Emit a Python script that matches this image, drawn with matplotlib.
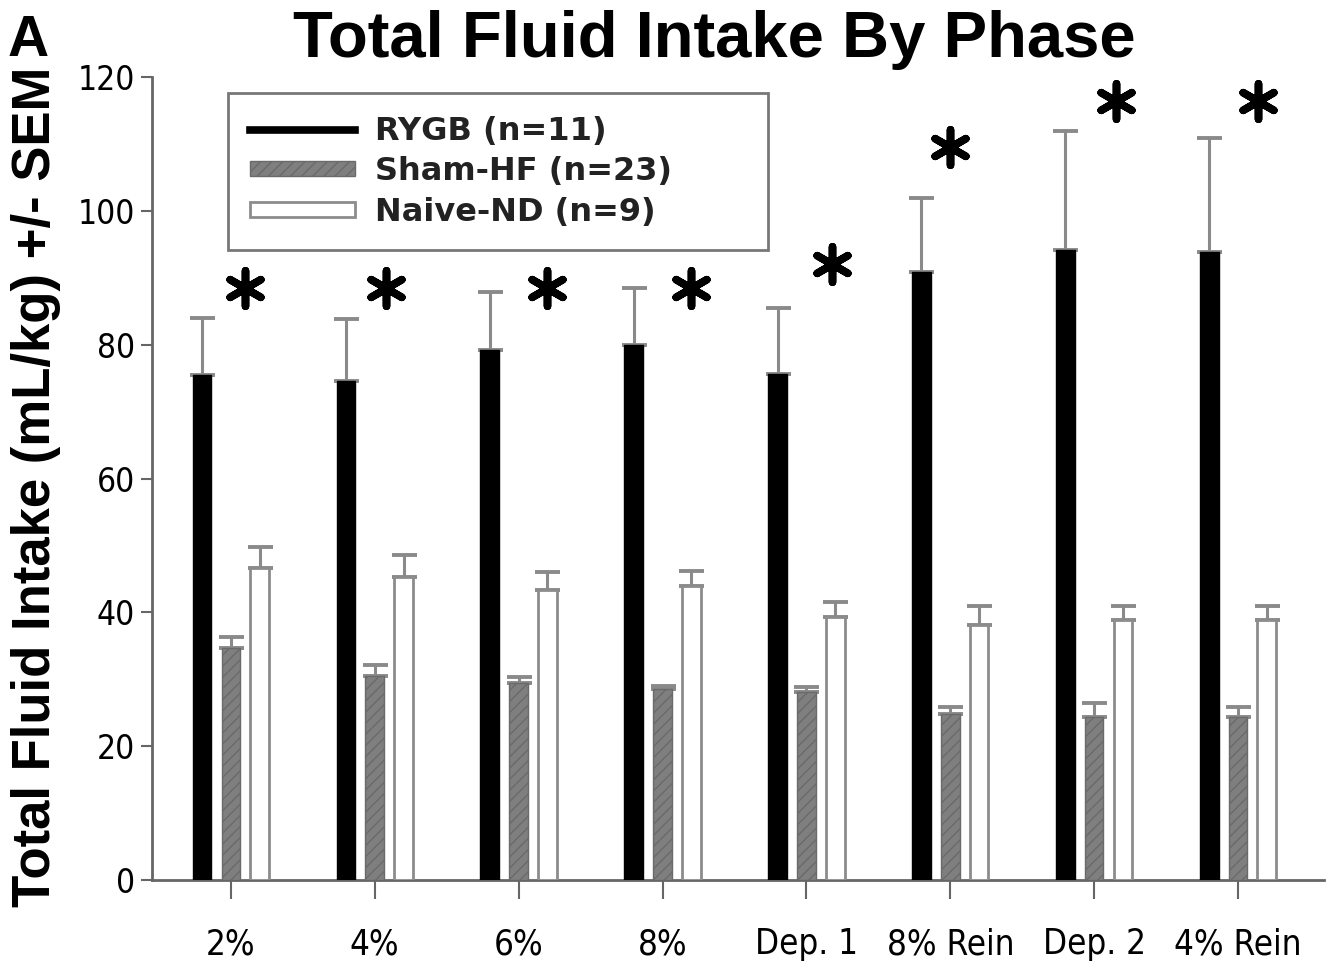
import matplotlib
matplotlib.use("Agg")
import matplotlib.pyplot as plt
import matplotlib.patches as mpatches
from matplotlib.lines import Line2D
from matplotlib import font_manager
import numpy as np

categories = ["2%", "4%", "6%", "8%", "Dep. 1", "8% Rein", "Dep. 2", "4% Rein"]
rygb = [75.5, 74.6, 79.2, 80.0, 75.6, 90.9, 94.1, 93.8]
rygb_sem = [8.5, 9.2, 8.7, 8.5, 9.9, 11.0, 17.8, 17.1]
sham = [34.7, 30.5, 29.4, 28.5, 28.1, 24.8, 24.4, 24.4]
sham_sem = [1.6, 1.6, 0.9, 0.5, 0.7, 1.1, 2.0, 1.5]
naive = [46.6, 45.3, 43.3, 43.9, 39.3, 38.1, 38.9, 38.9]
naive_sem = [3.2, 3.3, 2.7, 2.3, 2.2, 2.8, 2.0, 2.0]
sig_y = [88.5, 88.5, 88.5, 88.5, 92.0, 109.5, 116.5, 116.5]
sig_dx = [0.10, 0.08, 0.20, 0.20, 0.18, 0.0, 0.15, 0.14]

series_labels = ["RYGB (n=11)", "Sham-HF (n=23)", "Naive-ND (n=9)"]
title = "Total Fluid Intake By Phase"
ylabel = "Total Fluid Intake (mL/kg) +/- SEM"

# condensed face if one is installed
cond = None
for f in font_manager.fontManager.ttflist:
    if "Condensed" in f.fname or "Narrow" in f.fname:
        if "Bold" not in f.fname and "Oblique" not in f.fname and "Italic" not in f.fname:
            cond = f.fname
            break

BOLD = ["Liberation Sans", "DejaVu Sans"]


def tick_font(t, size):
    if cond is not None:
        t.set_fontproperties(font_manager.FontProperties(fname=cond, size=size))
    else:
        t.set_fontfamily(BOLD)
        t.set_fontsize(size * 0.9)


plt.rcParams['hatch.color'] = "#4a4a4a"
fig = plt.figure(figsize=(13.31, 9.64), dpi=100)
ax = fig.add_axes([0.114, 0.087, 0.881, 0.833])

x = np.arange(len(categories))
w = 0.13
off = 0.2
errc = "#8a8a8a"

ax.bar(x - off, rygb, w, color="black", edgecolor="black", linewidth=1, zorder=3)
ax.bar(x, sham, w, color="#7f7f7f", edgecolor="#6a6a6a", hatch="///", linewidth=1, zorder=3)
ax.bar(x + off, naive, w, color="white", edgecolor="#8c8c8c", linewidth=2, zorder=3)

for xs, vals, sem in [(x - off, rygb, rygb_sem), (x, sham, sham_sem), (x + off, naive, naive_sem)]:
    ax.errorbar(xs, vals, yerr=[np.zeros(len(vals)), sem], fmt="none", ecolor=errc,
                elinewidth=2.2, capsize=9, capthick=2.8, zorder=2)

ax.scatter(x + np.array(sig_dx), sig_y, marker=(6, 2, 0), s=650, color="black",
           linewidths=5.5, zorder=4, clip_on=False)

ax.set_xlim(-0.55, 7.6)
ax.set_ylim(0, 120)
ax.set_yticks(np.arange(0, 121, 20))
ylabs = ax.set_yticklabels([str(v) for v in range(0, 121, 20)])
ax.set_xticks(x)
xlabs = ax.set_xticklabels(categories)
for t in ylabs:
    tick_font(t, 24)
for t in xlabs:
    tick_font(t, 25)
ax.tick_params(axis="y", direction="out", length=8, width=1.5, color="#666666", pad=4)
ax.tick_params(axis="x", direction="out", length=14, width=1.5, color="#666666", pad=20)
for s in ["top", "right"]:
    ax.spines[s].set_visible(False)
for s in ["left", "bottom"]:
    ax.spines[s].set_color("#666666")
    ax.spines[s].set_linewidth(2)

fig.text(36 / 1331, 1 - 487 / 964, ylabel, rotation=90, ha="center", va="center",
         fontfamily=BOLD, fontweight="bold", fontsize=38)

fig.text(0.537, 1 - 40 / 964, title, ha="center", va="center", fontfamily=BOLD,
         fontweight="bold", fontsize=47)
fig.text(0.006, 1 - 41 / 964, "A", ha="left", va="center", fontfamily=BOLD,
         fontweight="bold", fontsize=41)

handles = [
    Line2D([0], [0], color="black", lw=5.5),
    mpatches.Patch(facecolor="#7f7f7f", edgecolor="#6a6a6a", hatch="///"),
    mpatches.Patch(facecolor="white", edgecolor="#8c8c8c", linewidth=2),
]
bw = (768 - 228) / 1173
bh = (250 - 93) / 803
leg = ax.legend(handles, series_labels, loc="upper left", mode="expand",
                bbox_to_anchor=(0.0648, 0.980 - bh, bw, bh), borderaxespad=0,
                frameon=True, fancybox=False,
                edgecolor="#555555", handlelength=3.3, handleheight=0.35,
                borderpad=0.7, labelspacing=0.3, handletextpad=0.6,
                prop={"family": ["DejaVu Sans"], "weight": "bold", "size": 23})
leg.get_frame().set_linewidth(2)
for t in leg.get_texts():
    t.set_color("#222222")

fig.savefig("out.png", dpi=100, facecolor="white")
